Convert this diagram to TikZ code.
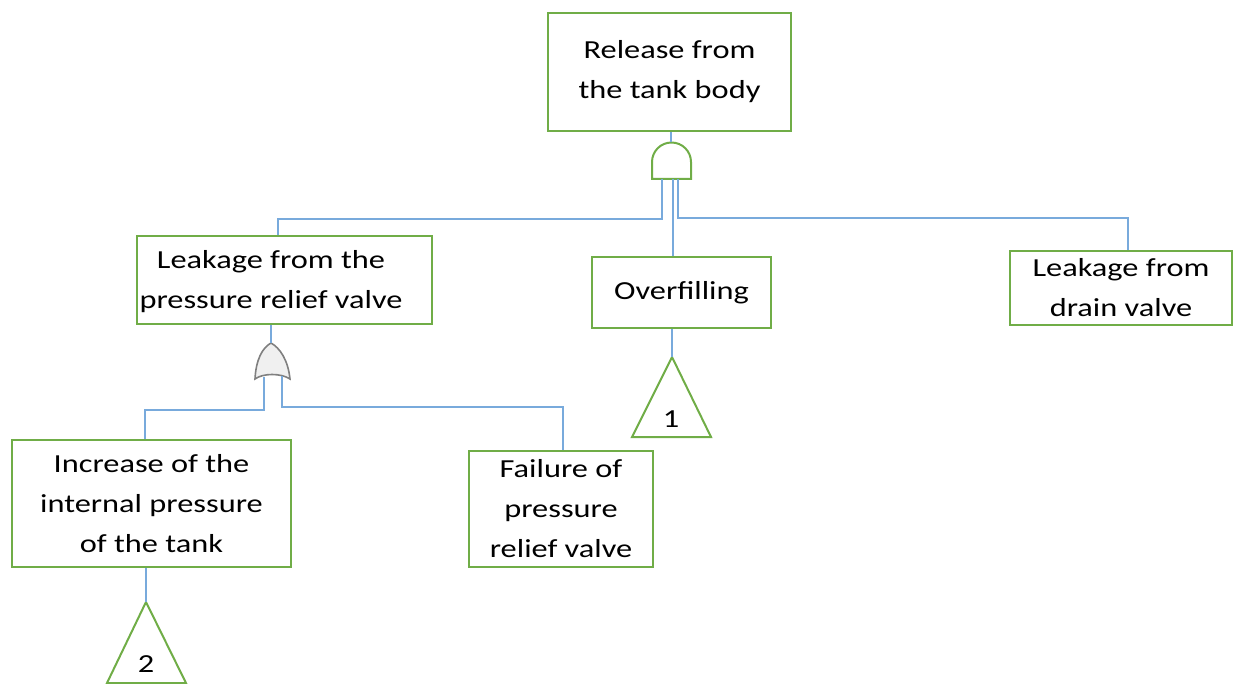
\documentclass[tikz,border=0pt]{standalone}
\usepackage{fontspec}
\setmainfont{Carlito}[FakeStretch=1.245]
\usetikzlibrary{calc}
\definecolor{boxgreen}{RGB}{112,173,71}
\definecolor{linkblue}{RGB}{120,170,220}
\definecolor{gatefill}{RGB}{240,240,240}
\definecolor{gateedge}{RGB}{128,128,128}
\tikzset{
  eventbox/.style={draw=boxgreen, line width=2pt, rectangle, inner sep=0pt,
    align=center, font=\fontsize{26}{40}\selectfont, text=black},
  caption/.style={inner sep=0pt, align=center, font=\fontsize{26}{40}\selectfont, text=black},
  link/.style={draw=linkblue, line width=1.2pt},
  andgate/.style={draw=boxgreen, line width=2pt, fill=white},
  orgate/.style={draw=gateedge, line width=1.6pt, fill=gatefill},
  transfer/.style={draw=boxgreen, line width=2pt, line join=miter},
}
\begin{document}
\begin{tikzpicture}[x=1pt, y=-1pt]
\useasboundingbox (0,0) rectangle (1233,684);

% events
\node[eventbox, minimum width=243pt, minimum height=118pt] (top) at (669.5,72)
  {Release from\\the tank body};
\node[eventbox, minimum width=295pt, minimum height=88pt] (lbox) at (284.5,280) {};
\node[caption] (lboxtext) at (271,282) {Leakage from the\\pressure relief valve};
\node[eventbox, minimum width=179pt, minimum height=71pt] (over) at (681.5,292.5) {Overfilling};
\node[eventbox, minimum width=222pt, minimum height=73pt] (rbox) at (1121,288) {Leakage from\\drain valve};
\node[eventbox, minimum width=279pt, minimum height=127pt] (inc) at (151.5,503.5)
  {Increase of the\\internal pressure\\of the tank};
\node[eventbox, minimum width=184pt, minimum height=116pt] (fail) at (561,509)
  {Failure of\\pressure\\relief valve};

% AND gate under the top event
\coordinate (andTop) at (671,142.5);
\coordinate (andL) at (662,179);
\coordinate (andM) at (673,179);
\coordinate (andR) at (678,179);
\draw[andgate] (652,179) -- (652,162) arc[start angle=180, end angle=360, radius=19.5] -- (691,179) -- cycle;

% OR gate under the relief valve leakage
\coordinate (orTop) at (271,343);
\coordinate (orL) at (264,377);
\coordinate (orR) at (282,376);
\draw[orgate] (255,379) .. controls (256,360) and (262,348) .. (orTop)
  .. controls (280,348) and (288,360) .. (290,379)
  .. controls (281,373) and (263,373) .. cycle;

% transfer triangles
\coordinate (tri1) at (672,357);
\draw[transfer] (tri1) -- (711,437) -- (632,437) -- cycle;
\node[caption] (tri1num) at (671,419) {1};
\coordinate (tri2) at (146,602);
\draw[transfer] (tri2) -- (186,683) -- (107,683) -- cycle;
\node[caption] (tri2num) at (146,664) {2};

% connectors
\draw[link] (top.south -| andTop) -- (andTop);
\draw[link] (andL) -- ++(0,40) -| ([xshift=-6.5pt]lbox.north);
\draw[link] (andM) -- (andM |- over.north);
\draw[link] (andR) -- ++(0,39) -| ([xshift=7pt]rbox.north);
\draw[link] (orTop |- lbox.south) -- (orTop);
\draw[link] (orL) -- ++(0,33) -| ([xshift=-6.5pt]inc.north);
\draw[link] (orR) -- ++(0,31) -| ([xshift=2pt]fail.north);
\draw[link] (tri1 |- over.south) -- (tri1);
\draw[link] (tri2 |- inc.south) -- (tri2);
\end{tikzpicture}
\end{document}
